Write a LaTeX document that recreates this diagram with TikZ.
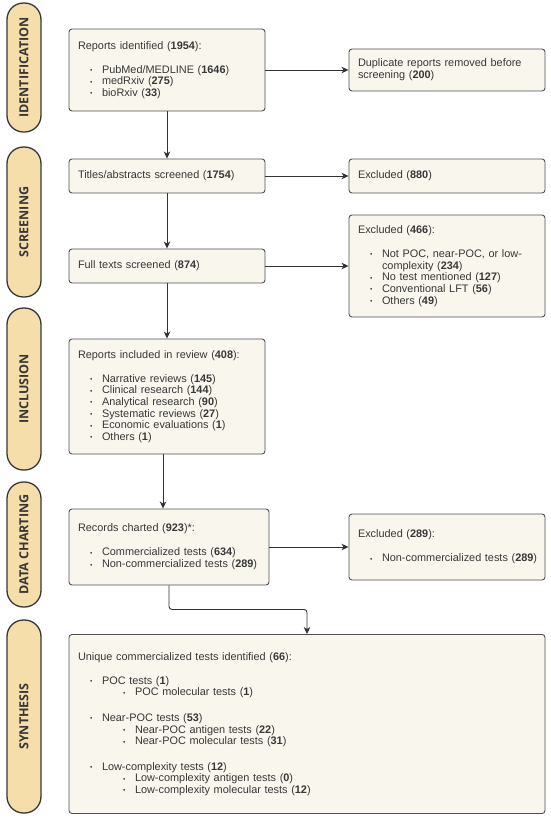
\documentclass[tikz,border=0pt]{standalone}
\usepackage{fontspec}
\setmainfont{Liberation Sans}
\newfontfamily\pillfont{Open Sans}
\usetikzlibrary{arrows.meta,calc}
\definecolor{boxfill}{RGB}{249,246,238}
\definecolor{boxdraw}{RGB}{80,80,80}
\definecolor{pillfill}{RGB}{246,222,170}
\definecolor{pilldraw}{RGB}{55,55,55}
\definecolor{txt}{RGB}{55,55,55}
\definecolor{arrcol}{RGB}{50,50,50}
\newcommand\bulmark{\raisebox{0.6pt}{\scalebox{0.6}{•}}}
\newcommand\li[1]{\makebox[24pt][l]{\hspace{12pt}\bulmark}\mbox{#1}}
\newcommand\lii[1]{\makebox[57pt][l]{\hspace{45pt}\bulmark}\mbox{#1}}
\newcommand\nb[1]{\textbf{#1}}
\begin{document}
\begin{tikzpicture}[x=1pt,y=-1pt,
  box/.style={draw=boxdraw, fill=boxfill, line width=0.9pt, rounded corners=3pt,
    text=txt, font=\fontsize{10.9}{11.7}\selectfont, align=left,
    inner xsep=9pt, inner ysep=0pt},
  pill/.style={draw=pilldraw, fill=pillfill, line width=1.3pt, rounded corners=16.5pt,
    rotate=90, minimum height=34pt, inner sep=0pt, text=txt,
    font=\pillfont\bfseries\fontsize{12.5}{13}\selectfont},
  arr/.style={draw=arrcol, line width=0.9pt, -{Stealth[length=7pt,width=6.5pt,inset=2pt]}}]
\useasboundingbox (0,0) rectangle (550,820);

% phase pills
\node[pill, minimum width=129pt] (pid) at (24,67.5) {IDENTIFICATION};
\node[pill, minimum width=150pt] (pscr) at (24,222) {SCREENING};
\node[pill, minimum width=162pt] (pinc) at (24,389) {INCLUSION};
\node[pill, minimum width=125pt] (pdat) at (24,544.5) {DATA CHARTING};
\node[pill, minimum width=193pt] (psyn) at (24,716.5) {SYNTHESIS};

% boxes
\node[box, text width=178pt, minimum height=82pt] (b1) at (167,70)
 {Reports identified (\nb{1954}):\\[12.3pt]
  \li{PubMed/MEDLINE (\nb{1646})}\\
  \li{medRxiv (\nb{275})}\\
  \li{bioRxiv (\nb{33})}};
\node[box, text width=178pt, minimum height=42pt] (dup) at (447,70)
 {Duplicate reports removed before\\ screening (\nb{200})};
\node[box, text width=178pt, minimum height=34pt] (tit) at (167,176)
 {Titles/abstracts screened (\nb{1754})};
\node[box, text width=178pt, minimum height=34pt] (ex880) at (447,176)
 {Excluded (\nb{880})};
\node[box, text width=178pt, minimum height=34pt] (full) at (167,266)
 {Full texts screened (\nb{874})};
\node[box, text width=178pt, minimum height=102pt] (ex466) at (447,266)
 {Excluded (\nb{466}):\\[12.3pt]
  \li{Not POC, near-POC, or low-}\\
  \hspace*{24pt}complexity (\nb{234})\\
  \li{No test mentioned (\nb{127})}\\
  \li{Conventional LFT (\nb{56})}\\
  \li{Others (\nb{49})}};
\node[box, text width=178pt, minimum height=115pt] (inc) at (167,396.5)
 {Reports included in review (\nb{408}):\\[12.3pt]
  \li{Narrative reviews (\nb{145})}\\
  \li{Clinical research (\nb{144})}\\
  \li{Analytical research (\nb{90})}\\
  \li{Systematic reviews (\nb{27})}\\
  \li{Economic evaluations (\nb{1})}\\
  \li{Others (\nb{1})}};
\node[box, text width=182pt, minimum height=76pt] (rec) at (169,547)
 {Records charted (\nb{923})*:\\[12.3pt]
  \li{Commercialized tests (\nb{634})}\\
  \li{Non-commercialized tests (\nb{289})}};
\node[box, text width=178pt, minimum height=66pt] (ex289) at (447,547)
 {Excluded (\nb{289}):\\[12.3pt]
  \li{Non-commercialized tests (\nb{289})}};
\node[box, text width=458pt, minimum height=179pt] (syn) at (307,724)
 {Unique commercialized tests identified (\nb{66}):\\[12.3pt]
  \li{POC tests (\nb{1})}\\
  \lii{POC molecular tests (\nb{1})}\\[13.8pt]
  \li{Near-POC tests (\nb{53})}\\
  \lii{Near-POC antigen tests (\nb{22})}\\
  \lii{Near-POC molecular tests (\nb{31})}\\[13.5pt]
  \li{Low-complexity tests (\nb{12})}\\
  \lii{Low-complexity antigen tests (\nb{0})}\\
  \lii{Low-complexity molecular tests (\nb{12})}};

% connectors
\draw[arr] (b1) -- (dup);
\draw[arr] (b1) -- (tit);
\draw[arr] (tit) -- (ex880);
\draw[arr] (tit) -- (full);
\draw[arr] (full) -- (ex466);
\draw[arr] (full) -- (inc);
\coordinate (incb) at ($(inc.south)+(-4,0)$);
\draw[arr] (incb) -- (incb |- rec.north);
\draw[arr] (rec) -- (ex289);
\draw[arr, rounded corners=3pt] (rec.south) -- ++(0,24) -| (syn.north);
\end{tikzpicture}
\end{document}
